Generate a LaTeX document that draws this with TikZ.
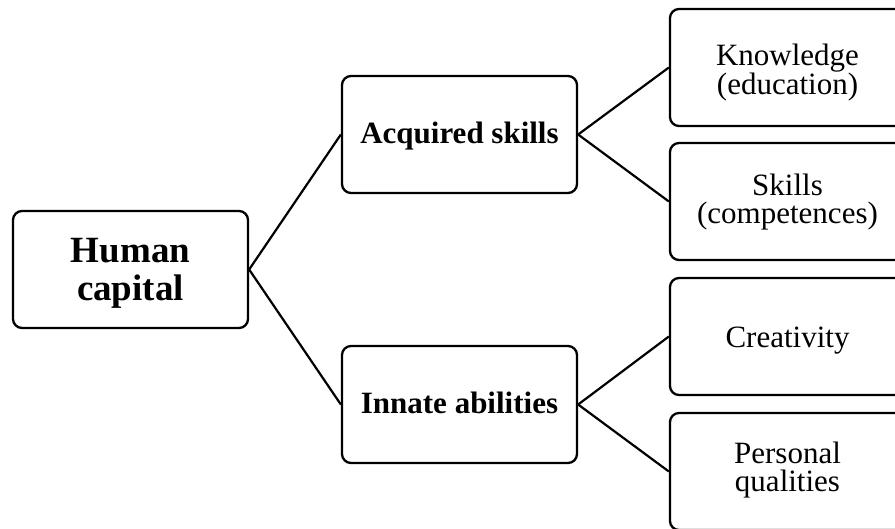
\documentclass[tikz,border=0pt]{standalone}
\usepackage{fontspec}
\setmainfont{Liberation Serif}
\begin{document}
\begin{tikzpicture}[x=1pt,y=-1pt,
  box/.style={draw=black, line width=2.3pt, rounded corners=9pt, fill=white,
    minimum width=235pt, minimum height=117pt, align=center, inner sep=0pt},
  rootbox/.style={box, font=\fontsize{37}{38}\selectfont\bfseries,
    text height=71pt, text depth=10pt},
  midbox/.style={box, font=\fontsize{31}{34}\selectfont\bfseries,
    text height=18pt, text depth=0pt},
  leafbox/.style={box, font=\fontsize{31}{28}\selectfont},
  oneline/.style={leafbox, text height=21pt, text depth=0pt},
  link/.style={line width=2.2pt}]
  \path[use as bounding box, clip] (0,0) rectangle (895,528);

  % tree of nodes
  \node[rootbox] (hc) at (130.5,269.5) {Human\\capital};
  \node[midbox] (acq) at (459.5,134.5) {Acquired skills};
  \node[midbox] (inn) at (459.5,404.5) {Innate abilities};
  \node[leafbox, text height=64pt, text depth=10pt] (know) at (787.5,67.5) {Knowledge\\(education)};
  \node[leafbox, text height=53pt, text depth=10pt] (skil) at (787.5,201.5) {Skills\\(competences)};
  \node[oneline] (crea) at (787.5,336.5) {Creativity};
  \node[leafbox, text height=50pt, text depth=10pt] (pers) at (787.5,471.5) {Personal\\qualities};

  % connectors
  \draw[link] (hc.east) -- (acq.west);
  \draw[link] (hc.east) -- (inn.west);
  \draw[link] (acq.east) -- (know.west);
  \draw[link] (acq.east) -- (skil.west);
  \draw[link] (inn.east) -- (crea.west);
  \draw[link] (inn.east) -- (pers.west);
\end{tikzpicture}
\end{document}
